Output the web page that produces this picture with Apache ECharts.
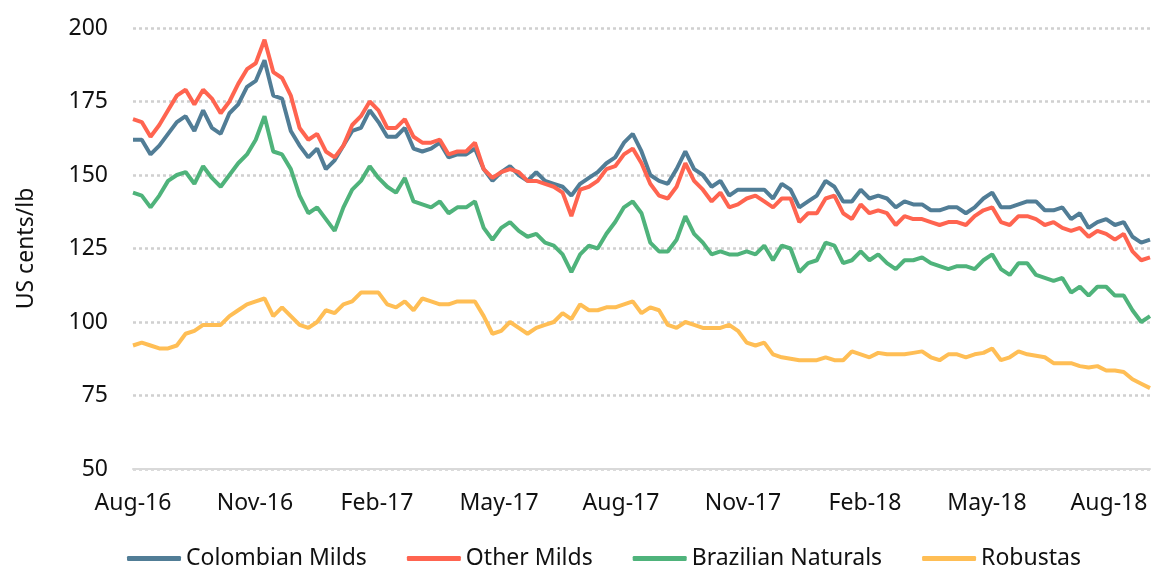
<!DOCTYPE html>
<html>
<head>
<meta charset="utf-8">
<title>Coffee prices</title>
<script src="https://cdn.jsdelivr.net/npm/echarts@6/dist/echarts.min.js"></script>
<style>
  html, body { margin: 0; padding: 0; background: #fff; }
  #chart { width: 1153px; height: 569px; }
</style>
</head>
<body>
<div id="chart"></div>
<script>
// weekly readings, Aug-16 .. end Aug-18 (US cents/lb)
var tickLabels = ['Aug-16', 'Nov-16', 'Feb-17', 'May-17', 'Aug-17', 'Nov-17', 'Feb-18', 'May-18', 'Aug-18'];
var seriesNames = ['Colombian Milds', 'Other Milds', 'Brazilian Naturals', 'Robustas'];
var seriesColors = ['#517d96', '#ff6450', '#4fb37b', '#ffbe55'];

var colombianMilds = [
    162, 162, 157, 160, 164, 168, 170, 165, 172, 166, 164, 171, 174, 180, 182, 189, 177, 176, 165, 160, 156, 159, 152, 155, 160, 165, 166, 172, 168, 163, 163,
    166, 159, 158, 159, 161, 156, 157, 157, 159, 152, 148, 151, 153, 150, 148, 151, 148, 147, 146, 143, 147, 149, 151, 154, 156, 161, 164, 158, 150, 148, 147, 152,
    158, 152, 150, 146, 148, 143, 145, 145, 145, 145, 142, 147, 145, 139, 141, 143, 148, 146, 141, 141, 145, 142, 143, 142, 139,
    141, 140, 140, 138, 138, 139, 139, 137, 139, 142, 144, 139, 139, 140, 141, 141, 138, 138, 139, 135, 137, 132, 134, 135, 133, 134, 129, 127, 128
];
var otherMilds = [
    169, 168, 163, 167, 172, 177, 179, 174, 179, 176, 171, 175, 181, 186, 188, 196, 185, 183, 177, 166, 162, 164, 158, 156, 160, 167, 170, 175, 172, 166, 166,
    169, 163, 161, 161, 162, 157, 158, 158, 161, 152, 149, 151, 152, 151, 148, 148, 147, 146, 144, 136, 145, 146, 148, 152, 153, 157, 159, 154, 147, 143, 142, 146,
    154, 148, 145, 141, 144, 139, 140, 142, 143, 141, 139, 142, 142, 134, 137, 137, 142, 143, 137, 135, 140, 137, 138, 137, 133,
    136, 135, 135, 134, 133, 134, 134, 133, 136, 138, 139, 134, 133, 136, 136, 135, 133, 134, 132, 131, 132, 129, 131, 130, 128, 130, 124, 121, 122
];
var brazilianNaturals = [
    144, 143, 139, 143, 148, 150, 151, 147, 153, 149, 146, 150, 154, 157, 162, 170, 158, 157, 152, 143, 137, 139, 135, 131, 139, 145, 148, 153, 149, 146, 144,
    149, 141, 140, 139, 141, 137, 139, 139, 141, 132, 128, 132, 134, 131, 129, 130, 127, 126, 123, 117, 123, 126, 125, 130, 134, 139, 141, 137, 127, 124, 124, 128,
    136, 130, 127, 123, 124, 123, 123, 124, 123, 126, 121, 126, 125, 117, 120, 121, 127, 126, 120, 121, 124, 121, 123, 120, 118,
    121, 121, 122, 120, 119, 118, 119, 119, 118, 121, 123, 118, 116, 120, 120, 116, 115, 114, 115, 110, 112, 109, 112, 112, 109, 109, 104, 100, 102
];
var robustas = [
    92, 93, 92, 91, 91, 92, 96, 97, 99, 99, 99, 102, 104, 106, 107, 108, 102, 105, 102, 99, 98, 100, 104, 103, 106, 107, 110, 110, 110, 106, 105,
    107, 104, 108, 107, 106, 106, 107, 107, 107, 102, 96, 97,
    100, 98, 96, 98, 99, 100, 103, 101, 106, 104, 104, 105, 105, 106, 107, 103, 105, 104, 99, 98, 100, 99, 98, 98, 98, 99, 97, 93, 92, 93, 89, 88, 87.5, 87, 87, 87, 88, 87, 87, 90, 89, 88, 89.5,
    89, 89, 89, 89.5, 90, 88, 87, 89, 89, 88, 89, 89.5, 91, 87, 88, 90, 89, 88.5, 88, 86, 86, 86, 85, 84.5, 85, 83.5, 83.5, 83, 80.5, 79, 77.5
];

var allSeries = [colombianMilds, otherMilds, brazilianNaturals, robustas];
var lastIndex = colombianMilds.length - 1;
var quarterStep = 13.915; // points per 3 months on the x axis
var fontName = '"Noto Sans", sans-serif';

var dom = document.getElementById('chart');
var myChart = echarts.init(dom, null, {renderer: 'canvas'});
var option;

option = {
    animation: false,
    backgroundColor: '#fff',
    textStyle: {fontFamily: fontName},
    grid: {left: 133, right: 3, top: 28, bottom: 100},
    legend: {
        left: 122,
        top: 542,
        icon: 'roundRect',
        itemWidth: 54,
        itemHeight: 5,
        itemGap: 40,
        textStyle: {fontSize: 23, color: '#111', fontFamily: fontName},
        data: seriesNames
    },
    xAxis: {
        type: 'value',
        min: 0,
        max: lastIndex,
        interval: quarterStep,
        axisLine: {show: true, lineStyle: {color: '#d9d9d9', width: 2}},
        axisTick: {show: false},
        splitLine: {show: false},
        axisLabel: {
            showMaxLabel: false,
            margin: 23,
            fontSize: 23,
            color: '#111',
            fontFamily: fontName,
            formatter: function (v) {
                var k = Math.round(v / quarterStep);
                if (Math.abs(v - k * quarterStep) > 0.01) return '';
                return tickLabels[k] || '';
            }
        }
    },
    yAxis: {
        type: 'value',
        min: 50,
        max: 200,
        interval: 25,
        name: 'US cents/lb',
        nameLocation: 'middle',
        nameGap: 95,
        nameTextStyle: {fontSize: 23, color: '#111', fontFamily: fontName},
        axisLine: {show: false},
        axisTick: {show: false},
        axisLabel: {margin: 25, fontSize: 23, color: '#111', fontFamily: fontName},
        splitLine: {lineStyle: {color: '#d0d0d0', width: 2.5, type: [3, 3]}}
    },
    series: allSeries.map(function (vals, s) {
        return {
            name: seriesNames[s],
            type: 'line',
            showSymbol: false,
            symbol: 'none',
            color: seriesColors[s],
            lineStyle: {width: 4, color: seriesColors[s]},
            data: vals.map(function (v, i) { return [i, v]; })
        };
    })
};

if (option && typeof option === 'object') {
    myChart.setOption(option);
}
</script>
</body>
</html>
